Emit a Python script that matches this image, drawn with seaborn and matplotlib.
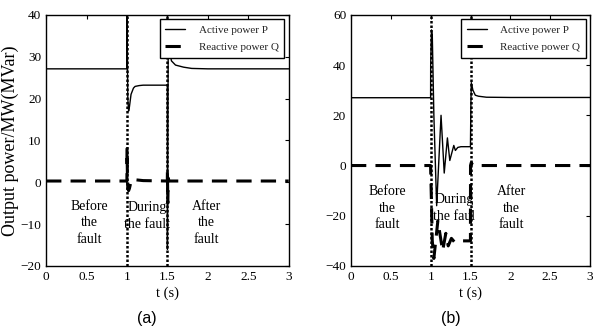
import matplotlib
matplotlib.use("Agg")
import matplotlib.pyplot as plt
import seaborn as sns

sns.set_theme(style="white")
plt.rcParams["font.family"] = ["Liberation Serif", "DejaVu Serif"]

# panel (a)
T_A_P = [0, 0.999, 1.0, 1.005, 1.01, 1.02, 1.03, 1.05, 1.08, 1.1, 1.15, 1.2, 1.3,
         1.499, 1.5, 1.505, 1.51, 1.52, 1.55, 1.6, 1.7, 1.8, 2.0, 3.0]
P_A = [27.1, 27.1, 40, 30, 20, 17, 18, 21, 22.5, 22.9, 23.1, 23.2, 23.2,
       23.2, -16, 10, 33.5, 32, 29, 28, 27.5, 27.2, 27.1, 27.1]
T_A_Q = [0, 0.999, 1.0, 1.005, 1.01, 1.02, 1.03, 1.05, 1.07, 1.1, 1.2,
         1.499, 1.5, 1.505, 1.51, 1.52, 1.55, 3.0]
Q_A = [0.3, 0.3, 8, 2, -1.5, -2, -1.5, 0.2, 0.7, 0.6, 0.4,
       0.3, 3, -5, 1, 0.3, 0.3, 0.3]

# panel (b)
T_B_P = [0, 0.999, 1.0, 1.01, 1.02, 1.04, 1.075, 1.13, 1.17, 1.21, 1.24, 1.29,
         1.31, 1.34, 1.38, 1.45, 1.499, 1.5, 1.505, 1.51, 1.53, 1.56, 1.6, 1.7,
         2.0, 3.0]
P_B = [27, 27, 40, 54, 52, 20, -16, 20, -3, 11, 2, 8,
       6, 7.2, 7.5, 7.5, 7.5, 10, 25, 33, 30, 28, 27.6, 27.2,
       27.1, 27.1]
T_B_Q = [0, 0.999, 1.0, 1.01, 1.02, 1.04, 1.09, 1.15, 1.19, 1.22, 1.26, 1.3,
         1.4, 1.499, 1.5, 1.51, 1.52, 1.54, 3.0]
Q_B = [0, 0, -2, -15, -30, -37, -22, -34, -27, -32, -29, -30.5,
       -30, -30, 0, 1.2, 0.5, 0, 0]

FAULT_TIMES = [1.0, 1.5]
XTICKS = [0, 0.5, 1, 1.5, 2, 2.5, 3]
XTICK_LABELS = ["0", "0.5", "1", "1.5", "2", "2.5", "3"]


def draw_panel(ax, t_p, p, t_q, q, ylim, yticks, regions):
    sns.lineplot(x=t_p, y=p, ax=ax, color="black", linewidth=1.0,
                 label="Active power P", sort=False)
    sns.lineplot(x=t_q, y=q, ax=ax, color="black", linewidth=2.2,
                 linestyle=(0, (5, 3)), label="Reactive power Q", sort=False)
    for ft in FAULT_TIMES:
        ax.axvline(ft, color="black", linestyle=(0, (1, 0.8)), linewidth=1.8)
    ax.set_xlim(0, 3)
    ax.set_ylim(*ylim)
    ax.set_xticks(XTICKS)
    ax.set_xticklabels(XTICK_LABELS)
    ax.set_yticks(yticks)
    ax.tick_params(direction="in", top=True, right=True, length=3,
                   labelsize=9.5, colors="black", width=0.8)
    for s in ax.spines.values():
        s.set_color("black")
        s.set_linewidth(1.0)
    ax.set_xlabel("t (s)", fontsize=10.5, color="black", labelpad=3)
    for (x, y, txt) in regions:
        ax.text(x, y, txt, ha="center", va="center", fontsize=10,
                linespacing=1.35, color="black")
    leg = ax.legend(loc="upper right", fontsize=8, frameon=True,
                    fancybox=False, edgecolor="black", framealpha=1,
                    handlelength=1.8, handletextpad=1.2, borderaxespad=0.4,
                    labelspacing=0.7, borderpad=0.5)
    leg.get_frame().set_linewidth(1.0)


fig = plt.figure(figsize=(5.99, 3.30), dpi=100)
ax_a = fig.add_axes([0.077, 0.194, 0.405, 0.761])
ax_b = fig.add_axes([0.586, 0.194, 0.399, 0.761])

draw_panel(ax_a, T_A_P, P_A, T_A_Q, Q_A, (-20, 40), range(-20, 41, 10),
           [(0.53, -9.7, "Before\nthe\nfault"), (1.25, -8, "During\nthe fault"),
            (1.98, -9.7, "After\nthe\nfault")])
ax_a.set_ylabel("Output power/MW(MVar)", fontsize=13, color="black", labelpad=1)

draw_panel(ax_b, T_B_P, P_B, T_B_Q, Q_B, (-40, 60), range(-40, 61, 20),
           [(0.46, -17, "Before\nthe\nfault"), (1.29, -17, "During\nthe faul"),
            (2.01, -17, "After\nthe\nfault")])

fig.text(0.245, 0.036, "(a)", ha="center", va="center", fontsize=11.5,
         family="Liberation Sans", color="black")
fig.text(0.752, 0.036, "(b)", ha="center", va="center", fontsize=11.5,
         family="Liberation Sans", color="black")

fig.savefig("out.png", dpi=100)
